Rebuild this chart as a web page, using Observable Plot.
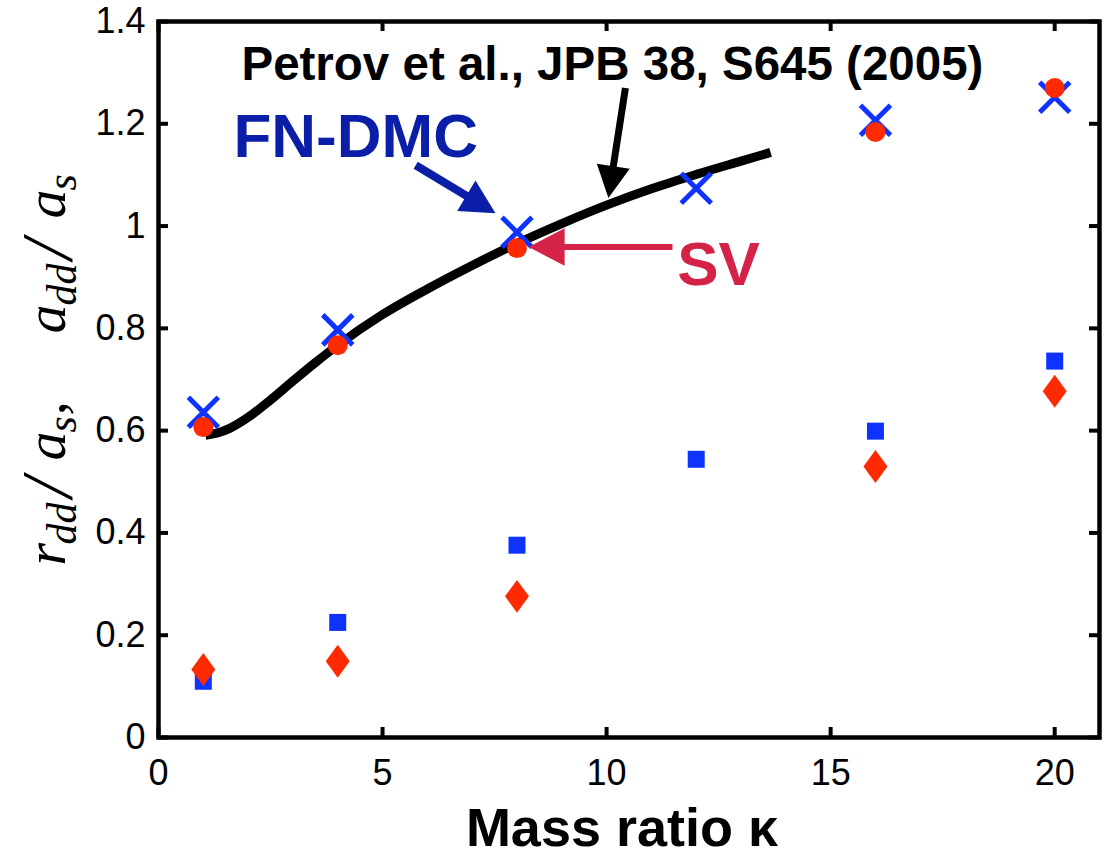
<!DOCTYPE html>
<html><head><meta charset="utf-8">
<script src="https://cdn.jsdelivr.net/npm/d3@7"></script>
<script src="https://cdn.jsdelivr.net/npm/@observablehq/plot@0.6"></script>
<style>html,body{margin:0;padding:0;background:#fff} svg{display:block}</style>
</head><body><div id="chart"></div>
<script>
// ---- data ----
const kappaDMC = [1, 4, 8, 12, 16, 20];
const addDMC   = [0.636, 0.797, 0.988, 1.074, 1.207, 1.252];
const rddDMC   = [0.110, 0.225, 0.376, 0.544, 0.599, 0.736];
const kappaSV  = [1, 4, 8, 16, 20];
const addSV    = [0.607, 0.767, 0.957, 1.184, 1.270];
const rddSV    = [0.133, 0.149, 0.276, 0.530, 0.677];
const kappaPetrov = [1.05, 1.3, 1.6, 2, 2.5, 3, 3.5, 4, 5, 6, 7, 8, 9, 10, 11, 12, 13, 13.66];
const addPetrov   = [0.591, 0.595, 0.605, 0.626, 0.660, 0.697, 0.733, 0.767, 0.827, 0.877, 0.923, 0.966, 1.005, 1.041, 1.073, 1.101, 1.127, 1.144];
const xTicks = [0, 5, 10, 15, 20];
const yTicks = [0, 0.2, 0.4, 0.6, 0.8, 1, 1.2, 1.4];
const xLabel = "Mass ratio κ";
const yLabel = "rdd/as,  add/as";
const noteTexts = ["Petrov et al., JPB 38, S645 (2005)", "FN-DMC", "SV"];
const noteX = [10.13, 4.40, 12.5];
const noteY = [1.286, 1.135, 0.885];
const arrowFromX = [10.42, 5.74, 11.47];
const arrowFromY = [1.270, 1.119, 0.959];
const arrowToX   = [10.04, 7.52, 8.26];
const arrowToY   = [1.055, 1.025, 0.959];

// ---- layout ----
const W = 1106, H = 856, mL = 158, mR = 7, mT = 21, mB = 119;
const xDomain = [0, 21], yDomain = [0, 1.4];
const plotW = W - mL - mR, plotH = H - mT - mB;
const BLUE = "#0f33ff", RED = "#ff2a00", DARKBLUE = "#0a1ea8", CRIMSON = "#d42347";
const noteColors = ["#000000", DARKBLUE, CRIMSON];
const noteSizes = [47.5, 62, 62];
const arrowWidths = [7, 8, 6];
const headLens = [32, 34, 36];

const dmc = kappaDMC.map((k, i) => ({k, a: addDMC[i], r: rddDMC[i]}));
const sv = kappaSV.map((k, i) => ({k, a: addSV[i], r: rddSV[i]}));
const petrov = kappaPetrov.map((k, i) => ({k, a: addPetrov[i]}));

const xs = Plot.scale({x: {domain: xDomain, range: [mL, W - mR]}});
const ys = Plot.scale({y: {domain: yDomain, range: [H - mB, mT]}});

// custom symbols
const symX = {draw(c, s) { const r = Math.sqrt(s / Math.PI); c.moveTo(-r, -r); c.lineTo(r, r); c.moveTo(r, -r); c.lineTo(-r, r); }};
const symDiamond = {draw(c, s) { const r = Math.sqrt(s / Math.PI); c.moveTo(0, -r * 1.37); c.lineTo(r, 0); c.lineTo(0, r * 1.37); c.lineTo(-r, 0); c.closePath(); }};
const symSquare = {draw(c, s) { const r = Math.sqrt(s / Math.PI); c.rect(-r, -r, 2 * r, 2 * r); }};
const symHead = {draw(c, s) { const L = Math.sqrt(s / Math.PI); c.moveTo(0, 0); c.lineTo(L * 0.52, L); c.lineTo(-L * 0.52, L); c.closePath(); }};

const arrowMarks = [];
noteTexts.forEach((t, i) => {
  const px1 = xs.apply(arrowFromX[i]), py1 = ys.apply(arrowFromY[i]);
  const px2 = xs.apply(arrowToX[i]), py2 = ys.apply(arrowToY[i]);
  const dx = px2 - px1, dy = py2 - py1, len = Math.hypot(dx, dy);
  const ang = Math.atan2(dx, -dy) * 180 / Math.PI;
  const frac = 1 - (headLens[i] * 0.6) / len;
  const a = {x1: arrowFromX[i], y1: arrowFromY[i],
             x2: arrowFromX[i] + frac * (arrowToX[i] - arrowFromX[i]),
             y2: arrowFromY[i] + frac * (arrowToY[i] - arrowFromY[i]),
             tx: arrowToX[i], ty: arrowToY[i]};
  arrowMarks.push(Plot.link([a], {x1: "x1", y1: "y1", x2: "x2", y2: "y2", stroke: noteColors[i], strokeWidth: arrowWidths[i], strokeLinecap: "butt"}));
  arrowMarks.push(Plot.dot([a], {x: "tx", y: "ty", symbol: symHead, r: headLens[i], rotate: ang, fill: noteColors[i], stroke: "none"}));
});

const noteMarks = noteTexts.map((t, i) => Plot.text([t], {
  x: noteX[i], y: noteY[i], text: d => d, textAnchor: "middle", lineAnchor: "bottom",
  fill: noteColors[i], fontWeight: "bold", fontSize: noteSizes[i]
}));

const plot = Plot.plot({
  width: W, height: H,
  marginLeft: mL, marginRight: mR, marginTop: mT, marginBottom: mB,
  x: {domain: xDomain},
  y: {domain: yDomain},
  style: {fontFamily: "'Liberation Sans', Arial, Helvetica, sans-serif", fontSize: "36px", background: "white", color: "black", overflow: "visible"},
  marks: [
    // inward ticks on all four sides
    Plot.tickX(xTicks, {x: d => d, insetTop: plotH - 10, stroke: "black", strokeWidth: 4}),
    Plot.tickX(xTicks, {x: d => d, insetBottom: plotH - 10, stroke: "black", strokeWidth: 4}),
    Plot.tickY(yTicks, {y: d => d, insetRight: plotW - 10, stroke: "black", strokeWidth: 4}),
    Plot.tickY(yTicks, {y: d => d, insetLeft: plotW - 10, stroke: "black", strokeWidth: 4}),
    Plot.frame({stroke: "black", strokeWidth: 4.5}),
    Plot.axisX(xTicks, {tickSize: 0, tickPadding: 22, fontSize: 36, label: null, tickFormat: d => String(d)}),
    Plot.axisY(yTicks, {tickSize: 0, tickPadding: 13, fontSize: 36, label: null, tickFormat: d => String(+d.toFixed(1))}),
    // Petrov curve
    Plot.line(petrov, {x: "k", y: "a", stroke: "black", strokeWidth: 9, curve: "monotone-x", strokeLinecap: "butt"}),
    // r_dd
    Plot.dot(dmc, {x: "k", y: "r", symbol: symSquare, r: 8.5, fill: BLUE, stroke: "none"}),
    Plot.dot(sv, {x: "k", y: "r", symbol: symDiamond, r: 12, fill: RED, stroke: "none"}),
    // a_dd
    Plot.dot(dmc, {x: "k", y: "a", symbol: symX, r: 15, fill: "none", stroke: BLUE, strokeWidth: 5}),
    Plot.dot(sv, {x: "k", y: "a", r: 10, fill: RED, stroke: "none"}),
    ...arrowMarks,
    ...noteMarks,
    Plot.text([xLabel], {frameAnchor: "bottom", dx: -7, dy: 108, text: d => d, lineAnchor: "bottom", fontWeight: "bold", fontSize: 54}),
    Plot.text([yLabel], {frameAnchor: "left", dx: -94, dy: -8, text: d => d, rotate: -90, lineAnchor: "bottom", fontSize: 56})
  ]
});

// build the math-style y label with subscripts
d3.select(plot).selectAll("text").filter(function() { return this.textContent === yLabel; }).each(function() {
  const el = d3.select(this);
  el.text(null).attr("y", null).attr("dy", null).attr("text-anchor", "start")
    .attr("font-family", "'Liberation Serif', 'DejaVu Serif', serif").attr("font-style", "italic");
  const parts = [
    ["r", 0, 0, 58], ["dd", 21, 1, 42], ["/", 68, 0, 72], ["a", 105, 0, 58], ["s", 133, 1, 42], [",", 150, 0, 58],
    ["a", 232, 0, 58], ["dd", 260, 1, 42], ["/", 306, 0, 72], ["a", 347, 0, 58], ["s", 375, 1, 42]
  ];
  parts.forEach(([t, off, sub, fs]) => {
    el.append("tspan").attr("x", off - 194).attr("y", sub ? 11 : (t === "/" ? 6 : 0)).attr("font-size", fs).text(t);
  });
});

document.getElementById("chart").appendChild(plot);
</script>
</body></html>
